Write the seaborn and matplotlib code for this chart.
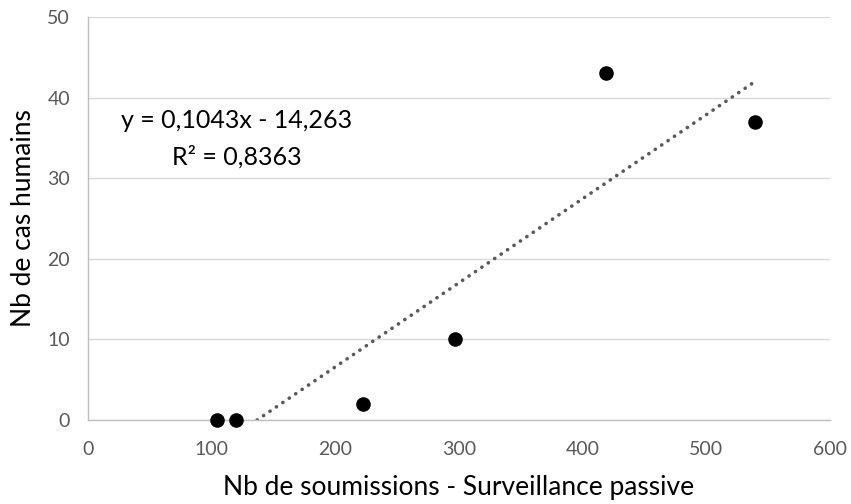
import numpy as np
import pandas as pd
import matplotlib
matplotlib.use("Agg")
import matplotlib.pyplot as plt
import seaborn as sns

# Data
soumissions = [104, 120, 222, 297, 419, 539]
cas_humains = [0, 0, 2, 10, 43, 37]
# Trendline coefficients as printed on the chart
slope = [0.1043]
intercept = [-14.263]
eq_text = ["y = 0,1043x - 14,263", "R² = 0,8363"]
x_ticks = [0, 100, 200, 300, 400, 500, 600]
y_ticks = [0, 10, 20, 30, 40, 50]

sns.set_theme(style="white")
plt.rcParams['font.family'] = ['Lato', 'DejaVu Sans']

df = pd.DataFrame({"x": soumissions, "y": cas_humains})

fig = plt.figure(figsize=(8.51, 5.04), dpi=100)
ax = fig.add_axes([88/851, 1 - 420/504, (830-88)/851, (420-17)/504])

# trendline over data range clipped to axis (y >= 0)
x0 = max(-intercept[0] / slope[0], min(soumissions))
x1 = max(soumissions)
tx = np.array([x0, x1])
ty = slope[0] * tx + intercept[0]
ax.plot(tx, ty, color="#595959", linewidth=2.6, linestyle=(0, (0.05, 2.1)),
        dash_capstyle="round", zorder=2)

sns.scatterplot(data=df, x="x", y="y", ax=ax, color="black", s=110,
                edgecolor="black", linewidth=0, zorder=3, clip_on=False)

ax.set_xlim(0, 600)
ax.set_ylim(0, 50)
ax.set_xticks(x_ticks)
ax.set_yticks(y_ticks)
ax.yaxis.grid(True, color="#d9d9d9", linewidth=1)
ax.xaxis.grid(False)
ax.set_axisbelow(True)

for s in ["top", "right"]:
    ax.spines[s].set_visible(False)
for s in ["left", "bottom"]:
    ax.spines[s].set_color("#bfbfbf")
    ax.spines[s].set_linewidth(1)

ax.tick_params(axis="both", which="both", direction="out", length=5, width=1,
               color="#bfbfbf", labelcolor="#595959", labelsize=14)
ax.tick_params(axis="x", pad=10)
ax.tick_params(axis="y", pad=8)

ax.set_xlabel("Nb de soumissions - Surveillance passive", fontsize=19, color="black", labelpad=12)
ax.set_ylabel("Nb de cas humains", fontsize=19, color="black", labelpad=8)

ax.text(120, 37.2, eq_text[0], fontsize=18, color="black", ha="center", va="center",
        transform=ax.transData)
ax.text(120, 32.6, eq_text[1], fontsize=18, color="black", ha="center", va="center",
        transform=ax.transData)

fig.savefig("out.png", dpi=100)
